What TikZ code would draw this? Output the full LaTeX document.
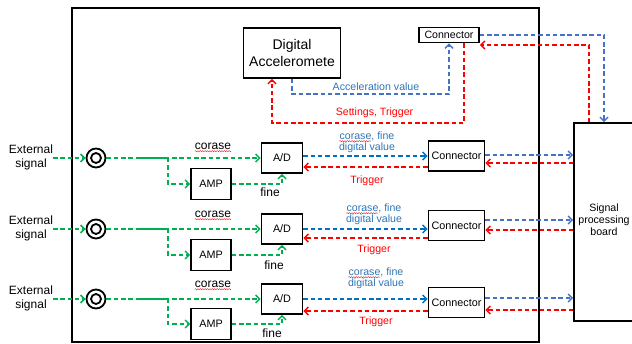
\documentclass[tikz,border=0pt]{standalone}
\usepackage{fontspec}
\setmainfont{Liberation Sans}
\usetikzlibrary{arrows.meta,decorations.pathmorphing,calc}
\definecolor{gr}{HTML}{00B050}
\definecolor{dblue}{HTML}{0070C0}
\definecolor{lblue}{HTML}{4472C4}
\definecolor{tblue}{HTML}{2E75B6}
\definecolor{rd}{HTML}{FF0000}
\newcommand\myfs[1]{\fontsize{#1}{#1}\selectfont}
\begin{document}
\begin{tikzpicture}[x=1pt,y=-1pt,
  box/.style={draw, line width=1.6pt, inner sep=0pt, font=\myfs{10.8}},
  dl/.style={dash pattern=on 4.5pt off 2.8pt, line width=1.5pt},
  arr/.style={-{Straight Barb[length=4pt,width=8pt]}},
  lbl/.style={inner sep=0pt, font=\myfs{10.6}},
  big/.style={inner sep=0pt, font=\myfs{12}},
  sq/.style={rd, line width=0.35pt, decorate, decoration={snake, amplitude=0.6pt, segment length=2.4pt}}]
\clip (0,0) rectangle (632,344);
% main box and board
\node[draw, line width=1.6pt, minimum width=467, minimum height=334, inner sep=0pt] (main) at (305.5,175) {};
\node[draw, line width=1.6pt, minimum width=80, minimum height=198, inner sep=0pt] (board) at (614,222) {};
\node[lbl, align=center, font=\fontsize{10.6}{12}\selectfont] (bt) at (604,220) {Signal\\processing\\board};
% accelerometer part
\node[box, minimum width=97, minimum height=50, align=center, font=\fontsize{14}{17}\selectfont] (acc) at (292,53) {Digital\\Acceleromete};
\node[box, minimum width=60, minimum height=15, font=\myfs{10.6}] (tc) at (449,35) {Connector};
\draw[dl, lblue, arr] (tc.east) -- (604,35) -- (board.north -| 604,0);
\draw[dl, rd, arr] (board.north -| 589,0) -- (589,45) -- (tc.east |- 0,45);
\draw[dl, lblue, arr] (acc.south) -- (292,94) -- (449,94) -- (tc.south);
\draw[dl, rd, arr] (tc.south -| 464,0) -- (464,123) -- (272,123) -- (acc.south -| 272,0);
\node[lbl, text=tblue] (av) at (376,87) {Acceleration value};
\node[lbl, text=rd] (st) at (374.5,113) {Settings, Trigger};
% rows
\foreach \i/\r/\am/\cn/\bl/\rl/\br/\rr/\co/\fx/\fy/\lx/\la/\tr in {
1/158/184/156/156/167/155/163/146/270/192/367/136/181,
2/229/255/225.5/229/238/220/230/214/274/265/374/208/250,
3/299/324/302.5/299/311/298/310/284/272/333/376/272/322}{
  \node[big, align=center, font=\fontsize{12}{14}\selectfont] (ext\i) at (31,\r-1) {External\\signal};
  \node[draw, circle, line width=1.8pt, minimum size=19pt, inner sep=0pt] (cir\i) at (96,\r) {};
  \node[draw, circle, line width=1.8pt, minimum size=10pt, inner sep=0pt] (cin\i) at (96,\r) {};
  \node[box, minimum width=41, minimum height=30] (ad\i) at (282,\r) {A/D};
  \node[box, minimum width=40, minimum height=31] (amp\i) at (211,\am) {AMP};
  \node[box, minimum width=56, minimum height=30] (cn\i) at (456.5,\cn) {Connector};
  \coordinate (br\i) at (168,\r);
  % green
  \draw[dl, gr, arr] (53,\r) -- (cir\i.west);
  \draw[dl, gr, arr] (cir\i.east) -- (ad\i.west |- 0,\r);
  \draw[gr, line width=1.5pt] (140,\r) -- (br\i);
  \draw[dl, gr, arr] (br\i) |- (amp\i.west);
  \draw[dl, gr, arr] (amp\i.east) -| (ad\i.south);
  \node[big] (co\i) at (213,\co) {corase};
  \draw[sq] ($(co\i.base west)+(0,2)$) -- ($(co\i.base east)+(0,2)$);
  \node[big] (fi\i) at (\fx,\fy) {fine};
  % A/D - connector
  \draw[dl, dblue, arr] (ad\i.east |- 0,\bl) -- (cn\i.west |- 0,\bl);
  \draw[dl, rd, arr] (cn\i.west |- 0,\rl) -- (ad\i.east |- 0,\rl);
  \node[lbl, text=tblue] (la\i) at (\lx,\la) {corase, fine};
  \draw[sq] ($(la\i.base west)+(0,2)$) -- ($(la\i.base west)!0.57!(la\i.base east)+(0,2)$);
  \node[lbl, text=tblue] (lb\i) at (\lx,\la+12) {digital value};
  \node[lbl, text=rd] (tg\i) at (\lx,\tr) {Trigger};
  % connector - board
  \draw[dl, lblue, arr] (cn\i.east |- 0,\br) -- (board.west |- 0,\br);
  \draw[dl, rd, arr] (board.west |- 0,\rr) -- (cn\i.east |- 0,\rr);
}
\end{tikzpicture}
\end{document}
